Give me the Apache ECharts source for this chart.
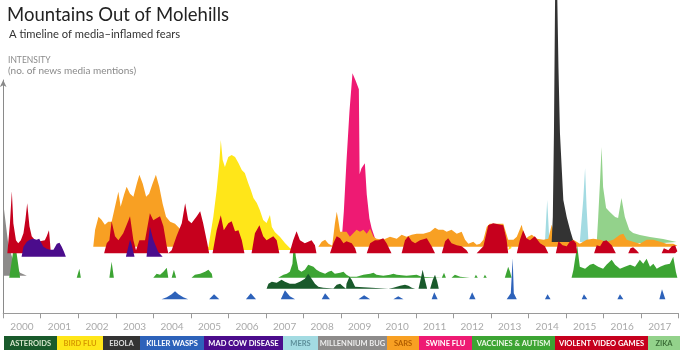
<!DOCTYPE html>
<html><head><meta charset="utf-8">
<script src="https://cdn.jsdelivr.net/npm/echarts@6/dist/echarts.min.js"></script>
<style>html,body{margin:0;padding:0;background:#fff}#c{width:680px;height:350px}</style>
</head><body><div id="c"></div>
<script>
// ---------- DATA (year, intensity above each topic's own baseline) ----------
const years = ['2000','2001','2002','2003','2004','2005','2006','2007','2008','2009','2010','2011','2012','2013','2014','2015','2016','2017'];
const legendNames = ['ASTEROIDS','BIRD FLU','EBOLA','KILLER WASPS','MAD COW DISEASE','MERS','MILLENNIUM BUG','SARS','SWINE FLU','VACCINES & AUTISM','VIOLENT VIDEO GAMES','ZIKA'];

const violentVideoGames = [
[2000.11,0],[2000.18,30],[2000.23,62],[2000.27,30],[2000.34,13],[2000.40,10],[2000.47,13],[2000.54,20],[2000.59,33],[2000.64,50],[2000.70,27],[2000.76,17],[2000.85,13],[2000.98,12],[2001.11,13],[2001.16,17],[2001.22,23],[2001.25,10],[2001.27,0],
[2002.69,0],[2002.76,10],[2002.83,13],[2002.89,32],[2002.98,17],[2003.07,13],[2003.20,20],[2003.34,33],[2003.38,37],[2003.47,13],[2003.54,3],[2003.63,13],[2003.78,13],[2003.91,40],[2004.00,33],[2004.09,35],[2004.18,37],[2004.27,27],[2004.36,7],[2004.40,0],
[2004.49,3],[2004.62,17],[2004.76,30],[2004.85,50],[2004.93,33],[2005.02,30],[2005.16,37],[2005.25,42],[2005.33,30],[2005.44,10],[2005.49,0],
[2005.58,0],[2005.69,23],[2005.80,38],[2005.88,23],[2006.00,30],[2006.09,32],[2006.18,22],[2006.27,23],[2006.36,13],[2006.43,0],
[2006.62,0],[2006.71,20],[2006.83,28],[2006.93,17],[2007.02,13],[2007.20,17],[2007.29,13],[2007.36,0],
[2007.63,0],[2007.73,13],[2007.82,22],[2007.91,13],[2008.04,10],[2008.22,13],[2008.31,8],[2008.35,0],
[2008.71,0],[2008.80,10],[2008.89,17],[2008.98,15],[2009.07,10],[2009.15,12],[2009.29,10],[2009.38,5],[2009.42,0],
[2009.69,0],[2009.78,10],[2009.91,13],[2010.00,13],[2010.13,15],[2010.22,10],[2010.35,0],
[2010.62,0],[2010.71,13],[2010.80,17],[2010.89,12],[2010.98,10],[2011.11,13],[2011.29,15],[2011.42,7],[2011.51,0],
[2011.69,0],[2011.78,12],[2011.86,15],[2011.95,10],[2012.09,8],[2012.22,7],[2012.35,3],[2012.40,0],
[2012.62,0],[2012.80,7],[2012.93,28],[2013.06,30],[2013.33,28],[2013.42,13],[2013.46,0],
[2013.69,0],[2013.77,13],[2013.86,23],[2013.95,15],[2014.04,13],[2014.17,17],[2014.31,10],[2014.44,7],[2014.53,0],
[2014.73,0],[2014.80,12],[2014.84,13],[2014.91,8],[2015.02,7],[2015.11,12],[2015.20,13],[2015.27,10],[2015.30,0],
[2015.75,0],[2015.82,8],[2015.91,7],[2015.99,12],[2016.08,13],[2016.22,8],[2016.33,0],
[2016.66,0],[2016.72,5],[2016.79,6],[2016.88,3],[2016.95,0],
[2017.55,0],[2017.61,5],[2017.73,3],[2017.82,7],[2017.91,8],[2017.97,2],[2017.99,0]
];
const sars = [
[2002.40,0],[2002.45,17],[2002.54,30],[2002.62,27],[2002.71,22],[2002.80,25],[2002.89,25],[2002.98,40],[2003.07,55],[2003.13,40],[2003.22,52],[2003.29,60],[2003.38,53],[2003.47,50],[2003.56,63],[2003.63,72],[2003.72,63],[2003.81,50],[2003.89,53],[2003.98,63],[2004.07,72],[2004.16,60],[2004.25,43],[2004.34,30],[2004.45,25],[2004.58,23],[2004.71,18],[2004.78,10],[2004.89,3],[2005.02,0],
[2008.40,0],[2008.49,5],[2008.58,7],[2008.67,3],[2008.71,1],[2008.77,1],[2008.84,23],[2008.89,35],[2008.93,27],[2008.98,15],[2009.15,15],[2009.24,10],[2009.42,17],[2009.51,15],[2009.60,17],[2009.69,13],[2009.78,18],[2009.87,10],[2009.95,8],[2010.13,7],[2010.31,10],[2010.49,8],[2010.62,12],[2010.75,10],[2010.89,12],[2011.02,13],[2011.20,13],[2011.38,15],[2011.51,19],[2011.60,17],[2011.73,17],[2011.82,15],[2011.95,17],[2012.09,13],[2012.22,15],[2012.31,7],[2012.40,3],[2012.53,5],[2012.62,2],[2012.71,3],[2012.80,7],[2012.89,20],[2012.97,23],[2013.33,23],[2013.46,7],[2013.60,7],[2013.69,10],[2013.82,22],[2013.91,7],[2013.99,10],[2014.09,12],[2014.22,8],[2014.40,7],[2014.53,8],[2014.62,22],[2014.71,10],[2014.84,8],[2015.20,7],[2015.37,3],[2015.55,7],[2015.73,8],[2015.91,7],[2016.08,5],[2016.26,7],[2016.44,12],[2016.53,13],[2016.62,7],[2016.79,5],[2016.97,3],[2017.15,7],[2017.33,7],[2017.51,5],[2017.68,3],[2017.86,3],[2017.97,1],[2017.99,0]
];
const birdFlu = [
[2005.07,0],[2005.25,2],[2005.47,3],[2005.60,33],[2005.69,60],[2005.76,87],[2005.80,110],[2005.85,90],[2005.91,83],[2006.00,93],[2006.09,95],[2006.18,93],[2006.27,87],[2006.36,80],[2006.44,77],[2006.53,67],[2006.60,60],[2006.67,52],[2006.76,47],[2006.84,40],[2006.93,30],[2007.02,27],[2007.11,35],[2007.16,23],[2007.24,18],[2007.38,13],[2007.51,7],[2007.64,2],[2007.73,0],
[2013.46,0],[2013.51,7],[2013.55,2],[2013.58,0]
];
const madCowDisease = [
[2000.49,0],[2000.54,10],[2000.63,15],[2000.71,17],[2000.80,18],[2000.89,17],[2000.96,18],[2001.03,13],[2001.07,10],[2001.16,8],[2001.25,7],[2001.34,7],[2001.43,13],[2001.50,14],[2001.56,10],[2001.62,5],[2001.67,0],
[2003.27,0],[2003.38,17],[2003.42,13],[2003.50,0],
[2003.82,0],[2003.87,17],[2003.91,30],[2004.00,17],[2004.13,5],[2004.25,0]
];
const millenniumBug = [[2000.00,73],[2000.02,73],[2000.14,30],[2000.31,10],[2000.45,3],[2000.63,0]];
const vaccinesAutism = [
[2000.16,0],[2000.31,37],[2000.45,0],
[2001.96,0],[2002.03,9],[2002.07,0],
[2002.83,0],[2002.89,16],[2002.95,0],
[2004.00,0],[2004.09,4],[2004.18,3],[2004.27,6],[2004.36,10],[2004.40,0],
[2004.49,0],[2004.55,8],[2004.61,0],
[2005.02,0],[2005.11,3],[2005.25,4],[2005.38,6],[2005.47,8],[2005.56,4],[2005.58,0],
[2007.33,0],[2007.47,3],[2007.56,4],[2007.64,6],[2007.71,14],[2007.75,38],[2007.80,21],[2007.87,8],[2007.95,6],[2008.04,8],[2008.13,13],[2008.18,14],[2008.27,11],[2008.35,8],[2008.44,6],[2008.58,4],[2008.67,6],[2008.75,7],[2008.84,4],[2008.98,5],[2009.07,6],[2009.15,3],[2009.24,1],[2009.42,1],[2009.60,3],[2009.78,4],[2009.87,5],[2009.95,3],[2010.13,2],[2010.31,3],[2010.40,4],[2010.49,3],[2010.75,2],[2011.02,3],[2011.15,1],[2011.20,0],
[2011.69,0],[2011.75,5],[2011.80,0],
[2011.95,0],[2012.04,3],[2012.18,1],[2012.44,0],
[2012.56,0],[2012.60,3],[2012.65,0],
[2012.80,0],[2012.84,3],[2012.89,0],
[2013.37,0],[2013.42,6],[2013.46,11],[2013.51,6],[2013.55,0],
[2015.15,0],[2015.20,8],[2015.24,18],[2015.30,32],[2015.37,11],[2015.51,9],[2015.64,13],[2015.73,14],[2015.86,11],[2015.99,9],[2016.08,13],[2016.22,18],[2016.31,13],[2016.44,9],[2016.57,11],[2016.71,13],[2016.84,11],[2016.97,18],[2017.06,14],[2017.15,19],[2017.24,11],[2017.33,14],[2017.42,9],[2017.51,11],[2017.64,13],[2017.77,14],[2017.86,21],[2017.93,6],[2017.97,0]
];
const asteroids = [
[2007.02,0],[2007.07,5],[2007.16,7],[2007.29,6],[2007.42,9],[2007.51,7],[2007.64,5],[2007.78,5],[2007.91,7],[2008.04,10],[2008.13,15],[2008.22,10],[2008.31,5],[2008.40,2],[2008.53,1],[2008.80,0.3],[2008.89,4],[2008.98,5],[2009.07,2],[2009.14,0],[2009.15,5],[2009.23,12],[2009.29,9],[2009.38,2],[2009.42,0],
[2010.27,0],[2010.40,1],[2010.58,3],[2010.71,4],[2010.80,3],[2010.89,1],[2010.98,0],
[2011.07,0],[2011.13,10],[2011.18,19],[2011.24,9],[2011.30,0],
[2011.38,0],[2011.45,9],[2011.51,14],[2011.57,7],[2011.61,0]
];
const killerWasps = [
[2004.22,0],[2004.36,2],[2004.49,5],[2004.58,8],[2004.67,5],[2004.80,2],[2004.93,0],
[2005.49,0],[2005.62,5],[2005.76,0],
[2006.47,0],[2006.60,6],[2006.74,0],
[2007.40,0],[2007.51,9],[2007.64,3],[2007.78,0],
[2008.49,0],[2008.58,6],[2008.71,0],
[2009.47,0],[2009.62,4],[2009.78,0],
[2010.40,0],[2010.53,3],[2010.67,0],
[2011.42,0],[2011.49,7],[2011.58,0],
[2012.42,0],[2012.50,7],[2012.59,0],
[2013.42,0],[2013.53,6],[2013.58,41],[2013.61,6],[2013.69,0],
[2014.44,0],[2014.51,5],[2014.59,0],
[2015.42,0],[2015.48,5],[2015.57,0],
[2016.37,0],[2016.44,5],[2016.53,0],
[2017.49,0],[2017.56,10],[2017.65,0]
];
const swineFlu = [[2009.02,0],[2009.08,30],[2009.15,80],[2009.23,130],[2009.31,168],[2009.33,168],[2009.40,160],[2009.48,152],[2009.50,67],[2009.55,73],[2009.64,78],[2009.69,47],[2009.76,23],[2009.82,13],[2009.91,3],[2009.95,0]];
const ebola = [[2014.62,0],[2014.65,25],[2014.68,109],[2014.71,242],[2014.74,300],[2014.77,242],[2014.80,175],[2014.84,109],[2014.93,42],[2015.02,25],[2015.11,12],[2015.19,2],[2015.24,0]];
const mers = [[2014.44,0],[2014.50,42],[2014.56,0],[2015.37,0],[2015.46,42],[2015.51,74],[2015.55,35],[2015.60,0]];
const zika = [[2015.82,0],[2015.86,26],[2015.91,63],[2015.95,96],[2015.99,56],[2016.07,35],[2016.17,31],[2016.31,26],[2016.39,25],[2016.48,45],[2016.57,26],[2016.69,13],[2016.79,10],[2016.97,8],[2017.24,6],[2017.59,4],[2017.95,1],[2017.99,0]];

// ---------- LAYOUT / STYLE ----------
const layers = [
  {name:'ZIKA', data:zika, base:70.3, color:'#93d28b'},
  {name:'MERS', data:mers, base:71.3, color:'#a3dbe2'},
  {name:'SWINE FLU', data:swineFlu, base:72, color:'#ee1a73'},
  {name:'BIRD FLU', data:birdFlu, base:63.3, color:'#ffe619'},
  {name:'SARS', data:sars, base:66.6, color:'#f8a023'},
  {name:'EBOLA', data:ebola, base:71.3, color:'#333333'},
  {name:'MILLENNIUM BUG', data:millenniumBug, base:37.5, color:'#8d8b8a'},
  {name:'VACCINES & AUTISM', data:vaccinesAutism, base:35.6, color:'#3ca433'},
  {name:'ASTEROIDS', data:asteroids, base:24.6, color:'#195a2b'},
  {name:'KILLER WASPS', data:killerWasps, base:14, color:'#2d62ba'},
  {name:'VIOLENT VIDEO GAMES', data:violentVideoGames, base:60, color:'#c6001d'},
  {name:'MAD COW DISEASE', data:madCowDisease, base:56.6, color:'#4b0c8c'}
];
const legendStyle = {
  'ASTEROIDS':['#195a2b','#d6e6cc'], 'BIRD FLU':['#ffe619','#d89a00'], 'EBOLA':['#333333','#dddddd'],
  'KILLER WASPS':['#2d62ba','#ffffff'], 'MAD COW DISEASE':['#4b0c8c','#ffffff'], 'MERS':['#a3dbe2','#5d8f9a'],
  'MILLENNIUM BUG':['#8d8b8a','#eeeeee'], 'SARS':['#f8a023','#b05c00'], 'SWINE FLU':['#ee1a73','#ffffff'],
  'VACCINES & AUTISM':['#3ca433','#eef8e8'], 'VIOLENT VIDEO GAMES':['#c6001d','#ffffff'], 'ZIKA':['#93d28b','#3b6e37']
};
const legendEdges = [4,57,103,140,204,283,318,387,419,472,555,648,680];

const FONT = 'Lato, "Open Sans", sans-serif';
const chart = echarts.init(document.getElementById('c'), null, {renderer:'canvas'});

const series = layers.map(l => ({
  name: l.name, type: 'line', xAxisIndex: 0, yAxisIndex: 0,
  data: l.data.map(p => [p[0], l.base + p[1]]),
  symbol: 'none', smooth: false, clip: false, silent: true,
  lineStyle: {width: 0, color: l.color},
  itemStyle: {color: l.color},
  areaStyle: {color: l.color, opacity: 1, origin: l.base}
}));

const graphic = [];
legendNames.forEach((n, i) => {
  const x0 = legendEdges[i], x1 = legendEdges[i+1];
  const st = legendStyle[n];
  graphic.push({type:'rect', left:x0, top:336, shape:{width:x1-x0, height:14}, style:{fill:st[0]}, silent:true});
  graphic.push({type:'text', x:(x0+x1)/2, y:343.5, style:{text:n, fill:st[1], font:'bold 7.5px ' + FONT, textAlign:'center', textVerticalAlign:'middle'}, silent:true});
});

chart.setOption({
  animation: false,
  backgroundColor: '#ffffff',
  title: [
    {text:'Mountains Out of Molehills', left:2, top:1, textStyle:{fontFamily:FONT, fontSize:18.5, fontWeight:'normal', color:'#222'}},
    {text:'A timeline of media–inflamed fears', left:4, top:24, textStyle:{fontFamily:FONT, fontSize:11.2, fontWeight:'normal', color:'#333'}},
    {text:'INTENSITY', left:3, top:51, textStyle:{fontFamily:FONT, fontSize:8.5, fontWeight:'normal', color:'#8a8a8a'}},
    {text:'(no. of news media mentions)', left:3, top:61, textStyle:{fontFamily:FONT, fontSize:10, fontWeight:'normal', color:'#8a8a8a'}}
  ],
  grid: {left:3.2, right:1.5, top:80, bottom:36.7, containLabel:false},
  xAxis: [
    {type:'value', min:2000, max:2018, show:false},
    {type:'category', data:years, position:'bottom', boundaryGap:true,
     axisLine:{show:true, lineStyle:{color:'#9a9a9a', width:1}},
     axisTick:{show:true, length:5, lineStyle:{color:'#9a9a9a'}},
     axisLabel:{color:'#aaaaaa', fontSize:10, fontFamily:FONT, margin:8},
     splitLine:{show:false}}
  ],
  yAxis: {type:'value', min:0, max:233.3,
    axisLine:{show:true, symbol:['none','arrow'], symbolSize:[5,7], lineStyle:{color:'#8a8a8a', width:1}},
    axisTick:{show:false}, axisLabel:{show:false}, splitLine:{show:false}},
  series: series,
  graphic: graphic
});
</script></body></html>
